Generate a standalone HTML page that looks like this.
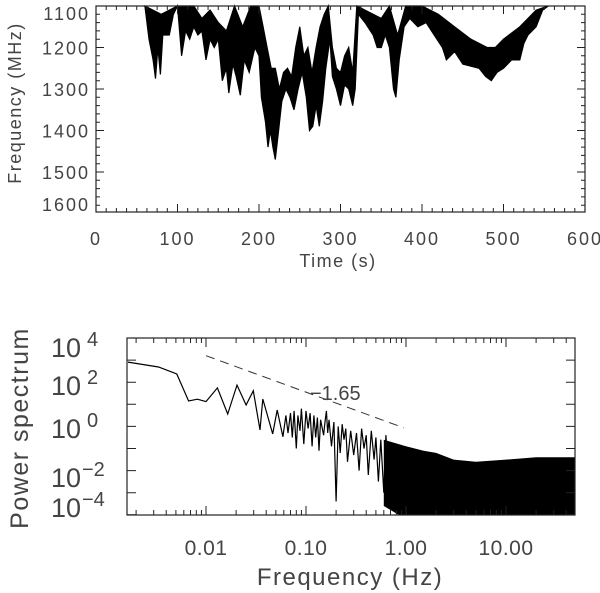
<!DOCTYPE html>
<html><head><meta charset="utf-8">
<style>
html,body{margin:0;padding:0;background:#fff;}
svg{display:block;font-family:"Liberation Sans",sans-serif;}
text{fill:#444;}
</style></head>
<body>
<svg id="chart" width="600" height="593" viewBox="0 0 600 593" xmlns="http://www.w3.org/2000/svg">
<g id="top"></g>
<g id="bot"></g>
</svg>
<script>
// ---- top panel data ----
const topXTicks = [0,100,200,300,400,500,600];
const topYTicks = [1100,1200,1300,1400,1500,1600];
const lowerTimes = [60,65,70,73,76,79,82,90,95,100,105,110,115,120,125,130,135,140,145,150,155,160,163,168,172,177,182,188,195,200,203,208,211,214,217,220,224,228,233,238,243,248,253,258,262,266,270,274,278,282,287,290,295,300,305,310,315,318,322,330,340,345,350,355,360,365,368,372,378,385,395,405,415,425,430,440,450,460,470,478,485,492,500,510,520,525,530,540,548,555];
const lowerFreq = [1100,1180,1230,1275,1200,1265,1170,1170,1120,1100,1220,1160,1180,1150,1170,1160,1230,1180,1200,1180,1280,1250,1310,1240,1270,1315,1230,1260,1200,1220,1320,1380,1440,1400,1440,1470,1400,1330,1300,1320,1350,1300,1260,1320,1400,1390,1340,1390,1330,1250,1180,1270,1300,1340,1290,1300,1340,1300,1120,1140,1170,1200,1200,1170,1200,1300,1320,1230,1150,1130,1150,1140,1170,1200,1230,1210,1240,1245,1250,1270,1280,1260,1250,1230,1230,1190,1170,1150,1110,1100];
const upperTimes = [60,80,100,120,130,140,150,160,170,180,190,200,205,210,215,220,225,230,235,240,245,250,255,260,265,270,275,280,285,290,295,300,305,310,315,320,350,360,370,380,400,420,440,460,480,490,500,520,540,555];
const upperFreq = [1100,1120,1100,1100,1130,1110,1140,1160,1100,1150,1100,1100,1150,1200,1250,1250,1300,1260,1250,1270,1200,1150,1220,1200,1260,1200,1150,1120,1100,1200,1250,1260,1220,1200,1260,1100,1130,1100,1170,1100,1100,1120,1150,1180,1200,1200,1180,1150,1110,1100];

// ---- bottom panel data ----
const botXTicks = [0.01,0.1,1,10];
const botXLabels = ["0.01","0.10","1.00","10.00"];
const botYExp = [4,2,0,-2,-4];
const specFreq = [0.00166,0.00335,0.0051,0.0067,0.0082,0.01,0.013,0.0165,0.0204,0.0252,0.0297,0.0347,0.037,0.0464,0.0515,0.0588,0.063,0.066,0.07,0.073,0.076,0.08,0.083,0.087,0.09,0.095,0.1,0.105,0.11,0.115,0.12,0.125,0.13,0.135,0.14,0.15,0.155,0.16,0.165,0.17,0.18,0.19,0.2,0.21,0.22,0.23,0.24,0.25,0.26,0.28,0.3,0.32,0.34,0.36,0.38,0.4,0.42,0.45,0.48,0.5,0.53,0.56,0.6,0.63,0.66,0.7,0.75,0.8,0.85,0.9,0.95,1.0,1.1,1.2];
const specLogP = [2.91,2.69,2.37,1.15,1.23,1.12,1.74,0.56,1.87,0.97,1.61,-0.16,1.24,-0.34,0.74,-0.47,0.5,-0.3,0.6,-0.5,0.7,-1.0,0.5,-0.2,0.8,-0.8,0.7,-0.1,0.6,-0.9,0.5,-0.5,0.4,-1.1,0.3,-0.4,0.2,0.7,-0.3,0.3,-0.9,0.2,-3.4,0.0,-1.2,0.1,-0.6,-0.1,-1.6,-0.2,-1.3,-0.3,-2.0,-0.1,-1.0,-0.4,-2.2,-0.2,-1.5,-0.5,-2.5,-0.6,-3.0,-0.4,-1.8,-0.8,-3.0,-1.0,-2.2,-1.2,-4.0,-1.4,-3.0,-1.6];
const bandFreq = [0.6,1.0,1.5,2,3,5,10,20,49];
const bandUpper = [-0.6,-0.9,-1.1,-1.2,-1.5,-1.6,-1.5,-1.4,-1.4];
const bandLower = [-3.6,-4.2,-4.2,-4.2,-4.2,-4.2,-4.2,-4.2,-4.2];
const fitSlope = [-1.65];
const fitStart = [0.01, 3.2];
const fitEnd = [0.95];

const NS="http://www.w3.org/2000/svg";
function mk(tag, attrs, parent){const e=document.createElementNS(NS,tag);for(const k in attrs)e.setAttribute(k,attrs[k]);parent.appendChild(e);return e;}

// ---- top panel ----
const T = document.getElementById('top');
const tL=96,tR=585,tT=6,tB=212;
const tx = t => tL + (t-0)/600*(tR-tL);
const ty = f => tT + (f-1100)*0.415;

let pts=[];
for(let i=0;i<lowerTimes.length;i++) pts.push(tx(lowerTimes[i]).toFixed(1)+','+ty(lowerFreq[i]).toFixed(1));
for(let i=upperTimes.length-1;i>=0;i--) pts.push(tx(upperTimes[i]).toFixed(1)+','+Math.max(tT,ty(upperFreq[i])).toFixed(1));
const band = mk('polygon',{points:pts.join(' '),fill:'#000',stroke:'#000','stroke-width':1.2,'stroke-linejoin':'miter'},T);



const tbox = mk('rect',{x:tL,y:tT,width:tR-tL,height:tB-tT,fill:'none',stroke:'#222','stroke-width':1.2},T);


let d='';
for(let t=0;t<=600;t+=12.5){const len=(t%100===0)?8:4;const x=tx(t);d+=`M${x},${tB}v${-len}M${x},${tT}v${len}`;}
for(let f=1100;f<=1600;f+=20){const len=(f%100===0)?8:4;const y=ty(f);if(y>tB)continue;d+=`M${tL},${y}h${len}M${tR},${y}h${-len}`;}
mk('path',{d:d,stroke:'#222','stroke-width':1,fill:'none'},T);
topXTicks.forEach(v=>{const e=mk('text',{x:tx(v),y:245,'text-anchor':'middle','font-size':18,'letter-spacing':2},T);e.textContent=v;

});
topYTicks.forEach(v=>{const yc=Math.min(Math.max(ty(v),13),204);const e=mk('text',{x:90,y:yc+7,'text-anchor':'end','font-size':18,'letter-spacing':2},T);e.textContent=v;

});
let e1=mk('text',{x:338,y:267,'text-anchor':'middle','font-size':18,'letter-spacing':1.5},T);e1.textContent='Time (s)';


let e2=mk('text',{x:0,y:0,'text-anchor':'middle','font-size':18,'letter-spacing':1.5,transform:'translate(21,103) rotate(-90)'},T);e2.textContent='Frequency (MHz)';



// ---- bottom panel ----
const B = document.getElementById('bot');
const bL=127,bR=575,bT=338,bB=515;
const bx = f => 206 + (Math.log10(f)+2)*100;
const by = lp => bT + (4-lp)*22.1;
const clip = mk('clipPath',{id:'bclip'},B);
mk('rect',{x:bL,y:bT,width:bR-bL,height:bB-bT},clip);
const g = mk('g',{'clip-path':'url(#bclip)'},B);

let bp=[];
for(let i=0;i<bandFreq.length;i++) bp.push(bx(bandFreq[i]).toFixed(1)+','+by(bandUpper[i]).toFixed(1));
for(let i=bandFreq.length-1;i>=0;i--) bp.push(bx(bandFreq[i]).toFixed(1)+','+by(bandLower[i]).toFixed(1));
const hb = mk('polygon',{points:bp.join(' '),fill:'#000'},g);


const sp = mk('polyline',{points:specFreq.map((f,i)=>bx(f).toFixed(1)+','+by(specLogP[i]).toFixed(1)).join(' '),fill:'none',stroke:'#000','stroke-width':1.2},g);


const fy2 = fitStart[1] + fitSlope[0]*(Math.log10(fitEnd[0])-Math.log10(fitStart[0]));
const fl = mk('line',{x1:bx(fitStart[0]),y1:by(fitStart[1]),x2:bx(fitEnd[0]),y2:by(fy2),stroke:'#333','stroke-width':1,'stroke-dasharray':'9,6'},B);


let fl2=mk('text',{x:310,y:400,'font-size':20},B);fl2.textContent='\u22121.65';



const bbox = mk('rect',{x:bL,y:bT,width:bR-bL,height:bB-bT,fill:'none',stroke:'#222','stroke-width':1.2},B);


let bd='';
for(let dec=-3;dec<=1;dec++){for(let m=1;m<=9;m++){const f=m*Math.pow(10,dec);const x=bx(f);if(x<bL||x>bR)continue;const len=m===1?9:5;bd+=`M${x},${bB}v${-len}M${x},${bT}v${len}`;}}
for(let p=-4;p<=4;p++){const y=by(p);bd+=`M${bL},${y}h9M${bR},${y}h-9`;}
mk('path',{d:bd,stroke:'#222','stroke-width':1,fill:'none'},B);
botXTicks.forEach((v,i)=>{const e=mk('text',{x:bx(v),y:555,'text-anchor':'middle','font-size':21,'letter-spacing':0.5},B);e.textContent=botXLabels[i];

});
const labY=[347,385,428,477,507];
botYExp.forEach((p,i)=>{const e=mk('text',{x:81,y:labY[i]+10,'text-anchor':'end','font-size':27},B);e.textContent='10';


const s=mk('text',{x:p<0?82:87,y:labY[i]-1,'font-size':20},B);s.textContent=p<0?'\u2212'+(-p):String(p);

});
let e3=mk('text',{x:350,y:585,'text-anchor':'middle','font-size':24,'letter-spacing':1.5},B);e3.textContent='Frequency (Hz)';


let e4=mk('text',{x:0,y:0,'text-anchor':'middle','font-size':25,'letter-spacing':1.5,transform:'translate(28,428) rotate(-90)'},B);e4.textContent='Power spectrum';


</script>
</body></html>
